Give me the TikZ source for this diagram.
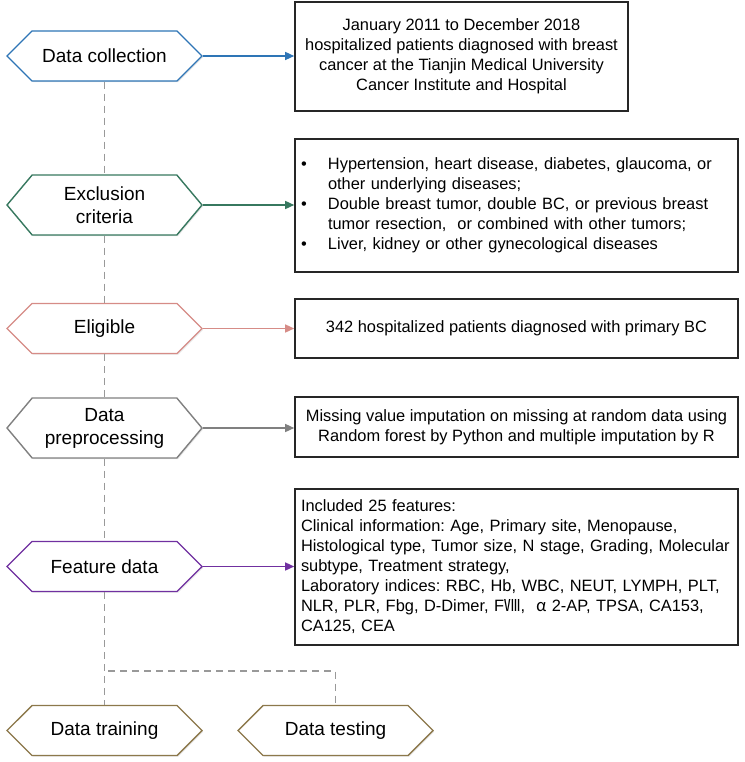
\documentclass[tikz,border=0pt]{standalone}
\usepackage{fontspec}
\setmainfont{Liberation Sans}
\newfontfamily\cjkf{Noto Sans CJK SC}
\usetikzlibrary{shapes.symbols,arrows.meta,shadows}
\definecolor{cblue}{RGB}{46,117,182}
\definecolor{cgreen}{RGB}{55,120,95}
\definecolor{cpink}{RGB}{214,140,135}
\definecolor{cgray}{RGB}{128,128,128}
\definecolor{cpurple}{RGB}{112,48,160}
\definecolor{colive}{RGB}{140,120,75}
\newcommand\hexfont{\fontsize{19}{23}\selectfont}
\newcommand\boxfont{\fontsize{16.4}{20}\selectfont}
\frenchspacing
\begin{document}
\frenchspacing
\begin{tikzpicture}[x=1pt,y=-1pt,
  hex/.style={signal, signal to=west and east, signal pointer angle=90,
    draw=#1, line width=1.4pt, fill=white, minimum width=195pt, minimum height=50pt,
    inner sep=0pt, align=center, font=\hexfont,
    drop shadow={opacity=0.2, shadow xshift=1.2pt, shadow yshift=-1.2pt}},
  tallhex/.style={minimum height=60pt, signal pointer angle=100},
  box/.style={draw=black!85, line width=1.6pt, rectangle, inner sep=0pt, font=\boxfont, fill=white},
  arr/.style={draw=#1, line width=1.4pt, -{Triangle[length=9pt,width=8pt,fill=#1]}},
  dline/.style={draw=black!40, line width=1.2pt, dash pattern=on 7pt off 5pt}]
\useasboundingbox (0,0) rectangle (744,762);
% hexagons
\node[hex=cblue] (dc) at (104.5,56) {Data collection};
\node[hex=cgreen, tallhex] (ex) at (104.5,205) {Exclusion\\criteria};
\node[hex=cpink] (el) at (104.5,328.5) {Eligible};
\node[hex=cgray, tallhex] (pp) at (104.5,428) {Data\\preprocessing};
\node[hex=cpurple] (fd) at (104.5,566.5) {Feature data};
\node[hex=colive] (tr) at (104.5,730.5) {Data training};
\node[hex=colive] (te) at (335.5,730.5) {Data testing};
% boxes
\node[box, minimum width=333pt, minimum height=109pt, align=center] (b1) at (461.5,56.5)
  {January 2011 to December 2018\\hospitalized patients diagnosed with breast\\cancer at the Tianjin Medical University\\Cancer Institute and Hospital};
\node[box, text width=431pt, inner xsep=6pt, minimum height=133pt, align=left] (b2) at (516.5,205.5)
  {\begin{tabular}{@{}p{27pt}@{}l@{}}
  • & Hypertension, heart disease, diabetes, glaucoma, or\\
    & other underlying diseases;\\
  • & Double breast tumor, double BC, or previous breast\\
    & tumor resection,~ or combined with other tumors;\\
  • & Liver, kidney or other gynecological diseases
  \end{tabular}};
\node[box, minimum width=443pt, minimum height=59pt] (b3) at (516.5,328.5)
  {342 hospitalized patients diagnosed with primary BC};
\node[box, minimum width=443pt, minimum height=60pt, align=center] (b4) at (516.5,427)
  {Missing value imputation on missing at random data using\\Random forest by Python and multiple imputation by R};
\node[box, text width=431pt, inner xsep=6pt, minimum height=156pt, align=left] (b5) at (516.5,567)
  {Included 25 features:\\
   Clinical information: Age, Primary site, Menopause,\\
   Histological type, Tumor size, N stage, Grading, Molecular\\
   subtype, Treatment strategy,\\
   Laboratory indices: RBC, Hb, WBC, NEUT, LYMPH, PLT,\\
   NLR, PLR, Fbg, D-Dimer, F{\cjkf Ⅷ},~~{\cjkf α}~2-AP, TPSA, CA153,\\
   CA125, CEA};
% arrows
\draw[arr=cblue] (dc.east) -- (dc.east -| b1.west);
\draw[arr=cgreen] (ex.east) -- (ex.east -| b2.west);
\draw[arr=cpink] (el.east) -- (el.east -| b3.west);
\draw[arr=cgray] (pp.east) -- (pp.east -| b4.west);
\draw[arr=cpurple] (fd.east) -- (fd.east -| b5.west);
% dashed spine
\draw[dline] (dc.south) -- (ex.north);
\draw[dline] (ex.south) -- (el.north);
\draw[dline] (el.south) -- (pp.north);
\draw[dline] (pp.south) -- (fd.north);
\draw[dline] (fd.south) -- (tr.north);
\coordinate (split) at (108,671);
\draw[dline] (split) -| (te.north);
\end{tikzpicture}
\end{document}
